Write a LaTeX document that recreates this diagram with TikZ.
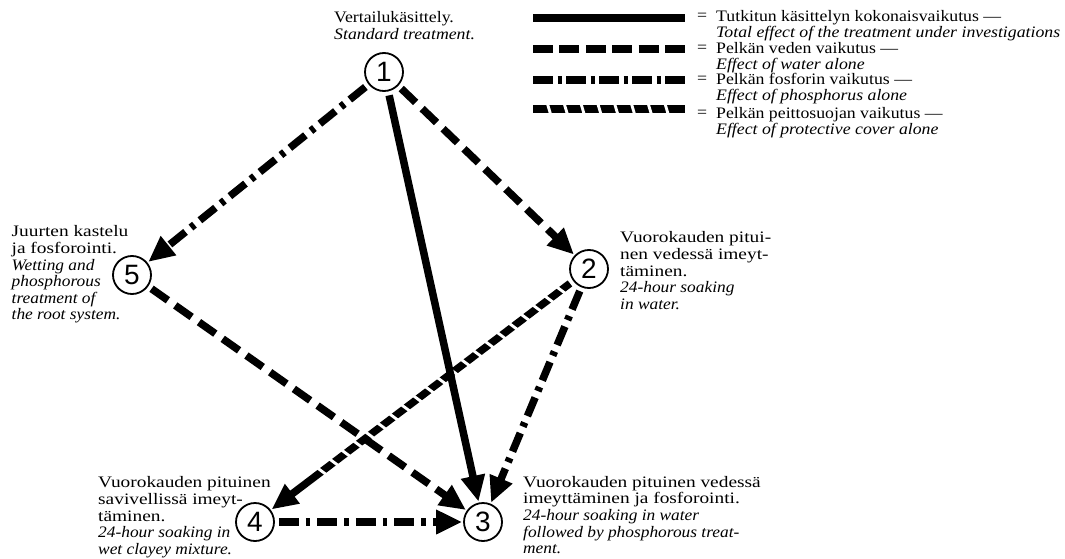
\documentclass[tikz,border=0pt]{standalone}
\usepackage{fontspec}
\setmainfont{Liberation Serif}[UprightFeatures={FakeStretch=1.21}, ItalicFeatures={FakeStretch=1.085}]
\newfontfamily\narrowserif{Liberation Serif}[Ligatures=TeX, UprightFeatures={FakeStretch=1.11}, ItalicFeatures={FakeStretch=1.11}]
\newfontfamily\numfont{Liberation Sans}
\usetikzlibrary{arrows.meta,decorations.markings}
\begin{document}
\begin{tikzpicture}[x=1pt,y=-1pt,
  lbl/.style={anchor=north west, inner sep=0pt, align=left, font=\fontsize{16}{16.6}\selectfont},
  lgd/.style={anchor=north west, inner sep=0pt, align=left, font=\narrowserif\fontsize{16}{16}\selectfont},
  num/.style={circle, draw, line width=1.8pt, minimum size=38pt, inner sep=0pt, font=\numfont\fontsize{28}{28}\selectfont},
  conn/.style={line width=7.5pt, shorten <=4pt, shorten >=1pt, -{Triangle[length=26pt,width=23pt]}},
  water/.style={dash pattern=on 20pt off 9pt},
  phos/.style={dash pattern=on 20pt off 7pt on 4.5pt off 7pt},
  cuts/.style={postaction={decorate}, decoration={markings, mark=between positions #1 step 15pt with {\fill[white, draw=none] (-3,-5.2) -- (0,-5.2) -- (3,5.2) -- (0,5.2) -- cycle;}}},
]
\useasboundingbox (0,0) rectangle (1065,559);

% numbered nodes
\node[num] (n1) at (384,72) {1};
\node[num] (n2) at (589,269) {2};
\node[num] (n3) at (483,522) {3};
\node[num] (n4) at (255,522) {4};
\node[num] (n5) at (132,275) {5};

% labels
\node[lbl, font=\narrowserif\fontsize{16}{17}\selectfont] (t1) at (334,11) {Vertailukäsittely.\\\textit{Standard treatment.}};
\node[lbl] (t5) at (11.5,225.5) {Juurten kastelu\\ja fosforointi.\\\textit{Wetting and}\\\textit{phosphorous}\\\textit{treatment of}\\\textit{the root system.}};
\node[lbl] (t2) at (620,231.5) {Vuorokauden pitui-\\nen vedessä imeyt-\\täminen.\\\textit{24-hour soaking}\\\textit{in water.}};
\node[lbl] (t4) at (98,476.5) {Vuorokauden pituinen\\savivellissä imeyt-\\täminen.\\\textit{24-hour soaking in}\\\textit{wet clayey mixture.}};
\node[lbl] (t3) at (523,476) {Vuorokauden pituinen vedessä\\imeyttäminen ja fosforointi.\\\textit{24-hour soaking in water}\\\textit{followed by phosphorous treat-}\\\textit{ment.}};

% legend
\coordinate (a0) at (533,18);  \coordinate (a1) at (685,18);
\coordinate (b0) at (533,49);  \coordinate (b1) at (685,49);
\coordinate (c0) at (533,80);  \coordinate (c1) at (685,80);
\coordinate (d0) at (533,109); \coordinate (d1) at (685,109);
\draw[line width=8.5pt] (a0) -- (a1);
\draw[line width=8pt, dash pattern=on 20pt off 6.4pt] (b0) -- (b1);
\draw[line width=8pt, dash pattern=on 20pt off 4.5pt on 4pt off 4.5pt] (c0) -- (c1);
\draw[line width=8pt, postaction={decorate}, decoration={markings, mark=between positions 16pt and 140pt step 16.8pt with {\fill[white] (-3,-5) -- (0,-5) -- (3,5) -- (0,5) -- cycle;}}] (d0) -- (d1);

\node[lgd, anchor=base west] (e1) at (697,21) {=};
\node[lgd, anchor=base west] (e2) at (697,53) {=};
\node[lgd, anchor=base west] (e3) at (697,84) {=};
\node[lgd, anchor=base west] (e4) at (697,118) {=};
\node[lgd] (g1) at (716,10) {Tutkitun käsittelyn kokonaisvaikutus —\\\textit{Total effect of the treatment under investigations}};
\node[lgd] (g2) at (716,42) {Pelkän veden vaikutus —\\\textit{Effect of water alone}};
\node[lgd] (g3) at (716,73) {Pelkän fosforin vaikutus —\\\textit{Effect of phosphorus alone}};
\node[lgd] (g4) at (716,107) {Pelkän peittosuojan vaikutus —\\\textit{Effect of protective cover alone}};

% connectors
\draw[conn, cuts=0.04 and 0.85] (n2) -- (n4);
\draw[conn] (n1) -- (n3);
\draw[conn, water] (n1) -- (n2);
\draw[conn, phos] (n1) -- (n5);
\draw[conn, water] (n5) -- (n3);
\draw[conn, phos] (n2) -- (n3);
\draw[conn, phos] (n4) -- (n3);
\end{tikzpicture}
\end{document}
